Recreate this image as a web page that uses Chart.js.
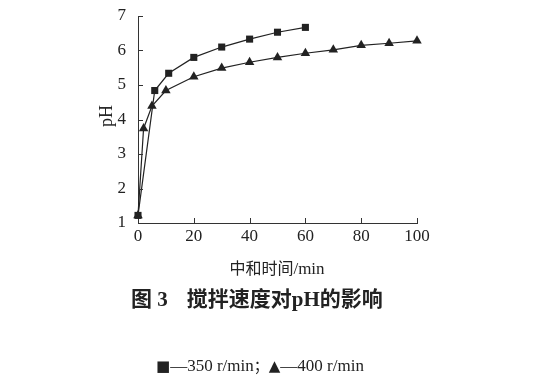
<!DOCTYPE html>
<html>
<head>
<meta charset="utf-8">
<script src="https://cdn.jsdelivr.net/npm/chart.js@4.4.1/dist/chart.umd.min.js"></script>
<style>
  body { margin: 0; background: #fff; }
  #wrap { position: relative; width: 556px; height: 380px; }
  #phChart { position: absolute; left: 0; top: 0; }
  .txt { position: absolute; color: #222; white-space: nowrap; font-family: "Liberation Serif", "Times New Roman", serif; line-height: 1; }
  .cjk { font-family: "Noto Sans CJK SC", sans-serif; }
  .mk { font-family: "DejaVu Sans", sans-serif; }
</style>
</head>
<body>
<div id="wrap">
  <canvas id="phChart" width="556" height="380"></canvas>
  <div class="txt" id="yTitle" style="left:106px;top:116px;font-size:18px;transform:translate(-50%,-50%) rotate(-90deg);">pH</div>
  <div class="txt" id="xTitle" style="left:277px;top:268px;font-size:17px;transform:translate(-50%,-50%);"><span class="cjk" style="font-size:16px;">中和时间</span>/min</div>
  <div class="txt" id="caption" style="left:131px;top:298px;font-size:21px;font-weight:bold;transform:translateY(-50%);"><span class="cjk">图</span> 3<span style="display:inline-block;width:19px"></span><span class="cjk">搅拌速度对</span>pH<span class="cjk">的影响</span></div>
  <div class="txt" id="legend" style="left:156px;top:365px;font-size:17px;transform:translateY(-50%);"><span class="mk" style="font-size:15px;">■</span>—350 r/min<span class="cjk" style="font-size:15px;">；</span><span class="mk" style="font-size:15px;">▲</span>—400 r/min</div>
</div>
<script>
// données
const time350 = [0, 6, 11, 20, 30, 40, 50, 60];
const ph350 = [1.22, 4.84, 5.34, 5.80, 6.10, 6.33, 6.53, 6.67];
const time400 = [0, 2, 5, 10, 20, 30, 40, 50, 60, 70, 80, 90, 100];
const ph400 = [1.22, 3.74, 4.39, 4.84, 5.24, 5.49, 5.66, 5.80, 5.92, 6.02, 6.15, 6.21, 6.28];
const xTicks = [0, 20, 40, 60, 80, 100];
const yTicks = [1, 2, 3, 4, 5, 6, 7];

const toPoints = (xs, ys) => xs.map((x, i) => ({ x: x, y: ys[i] }));

// petites graduations vers l'intérieur
const innerTicks = {
    id: 'innerTicks',
    afterDraw(chart) {
        const ctx = chart.ctx;
        const xs = chart.scales.x;
        const ys = chart.scales.y;
        const area = chart.chartArea;
        ctx.save();
        ctx.strokeStyle = '#333';
        ctx.lineWidth = 1;
        ctx.beginPath();
        xTicks.forEach(v => {
            if (v === 0) return;
            const px = Math.round(xs.getPixelForValue(v)) + 0.5;
            ctx.moveTo(px, area.bottom);
            ctx.lineTo(px, area.bottom - 5);
        });
        yTicks.forEach(v => {
            const py = Math.round(ys.getPixelForValue(v)) + 0.5;
            ctx.moveTo(area.left, py);
            ctx.lineTo(area.left + 5, py);
        });
        ctx.stroke();
        ctx.restore();
    }
};

const tickFont = { family: '"Liberation Serif", "Times New Roman", serif', size: 17 };

new Chart(document.getElementById('phChart'), {
    type: 'scatter',
    data: {
        datasets: [{
            label: '350 r/min',
            data: toPoints(time350, ph350),
            showLine: true,
            clip: false,
            borderColor: '#222',
            backgroundColor: '#222',
            borderWidth: 1.2,
            pointStyle: 'rect',
            pointRadius: 5,
            pointBorderWidth: 0,
            tension: 0
        }, {
            label: '400 r/min',
            data: toPoints(time400, ph400),
            showLine: true,
            clip: false,
            borderColor: '#222',
            backgroundColor: '#222',
            borderWidth: 1.2,
            pointStyle: 'triangle',
            pointRadius: 5.5,
            pointBorderWidth: 0,
            tension: 0
        }]
    },
    options: {
        responsive: false,
        animation: false,
        layout: { padding: { left: 0, top: 16, right: 139, bottom: 127 } },
        plugins: {
            legend: { display: false },
            tooltip: { enabled: false }
        },
        scales: {
            x: {
                type: 'linear',
                min: 0,
                max: 100,
                afterFit: s => { s.height = 30; },
                afterBuildTicks: s => { s.ticks = xTicks.map(v => ({ value: v })); },
                grid: { display: false },
                border: { display: true, color: '#333', width: 1 },
                ticks: { color: '#222', font: tickFont, padding: -5, maxRotation: 0 }
            },
            y: {
                type: 'linear',
                min: 1,
                max: 7,
                afterFit: s => { s.width = 138; },
                afterBuildTicks: s => { s.ticks = yTicks.map(v => ({ value: v })); },
                grid: { display: false },
                border: { display: true, color: '#333', width: 1 },
                ticks: { color: '#222', font: tickFont, padding: 4 }
            }
        }
    },
    plugins: [innerTicks]
});
</script>
</body>
</html>
